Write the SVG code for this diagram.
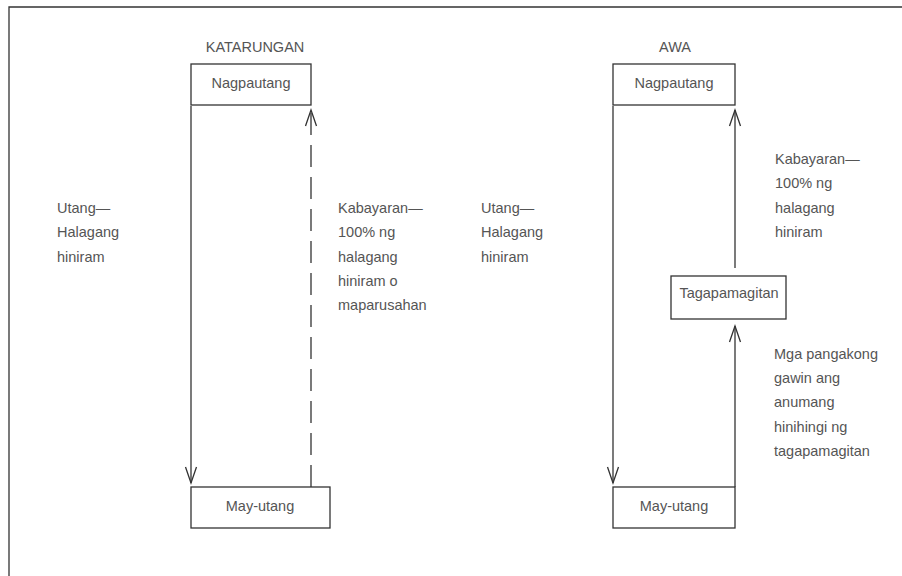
<svg xmlns="http://www.w3.org/2000/svg" width="902" height="576" viewBox="0 0 902 576">
<defs>
<style>
.box{fill:#fff;stroke:#333;stroke-width:1.3}
.ln{fill:none;stroke:#333;stroke-width:1.3}
.dash{stroke-dasharray:22 10}
.t{font-family:"Liberation Sans",Arial,sans-serif;font-size:14.5px;fill:#555}
.c{text-anchor:middle}
</style>
<marker id="ah" viewBox="-18 -7 20 14" markerWidth="20" markerHeight="14" refX="0" refY="0" orient="auto" markerUnits="userSpaceOnUse">
<path d="M-16,-5.5 L0,0 L-16,5.5" fill="none" stroke="#333" stroke-width="1.3"/>
</marker>
</defs>
<rect width="902" height="576" fill="#fff"/>
<path class="ln" d="M9,576 V7 H902" stroke-width="1.5"/>
<text class="t c" x="255" y="52">KATARUNGAN</text>
<text class="t c" x="675" y="52">AWA</text>
<g id="connectors">
<path class="ln" d="M191,106 V483" marker-end="url(#ah)"/>
<path class="ln dash" d="M311,487 V110" marker-end="url(#ah)"/>
<path class="ln" d="M613,106 V483" marker-end="url(#ah)"/>
<path class="ln" d="M735,268 V110" marker-end="url(#ah)"/>
<path class="ln" d="M735,487 V326" marker-end="url(#ah)"/>
</g>
<g id="n-nagpautang-1">
<rect class="box" x="191" y="64" width="120" height="41"/>
<text class="t c" x="251" y="88">Nagpautang</text>
</g>
<g id="n-mayutang-1">
<rect class="box" x="191" y="487" width="139" height="41"/>
<text class="t c" x="260" y="511">May-utang</text>
</g>
<g id="n-nagpautang-2">
<rect class="box" x="613" y="64" width="122" height="41"/>
<text class="t c" x="674" y="88">Nagpautang</text>
</g>
<g id="n-tagapamagitan">
<rect class="box" x="671" y="276" width="115" height="43"/>
<text class="t c" x="729" y="298">Tagapamagitan</text>
</g>
<g id="n-mayutang-2">
<rect class="box" x="613" y="487" width="122" height="41"/>
<text class="t c" x="674" y="511">May-utang</text>
</g>
<g id="labels">
<text class="t" x="57" y="213">Utang—</text>
<text class="t" x="57" y="237">Halagang</text>
<text class="t" x="57" y="262">hiniram</text>
<text class="t" x="338" y="213">Kabayaran—</text>
<text class="t" x="338" y="237">100% ng</text>
<text class="t" x="338" y="262">halagang</text>
<text class="t" x="338" y="286">hiniram o</text>
<text class="t" x="338" y="310">maparusahan</text>
<text class="t" x="481" y="213">Utang—</text>
<text class="t" x="481" y="237">Halagang</text>
<text class="t" x="481" y="262">hiniram</text>
<text class="t" x="775" y="164">Kabayaran—</text>
<text class="t" x="775" y="188">100% ng</text>
<text class="t" x="775" y="213">halagang</text>
<text class="t" x="775" y="237">hiniram</text>
<text class="t" x="774" y="359">Mga pangakong</text>
<text class="t" x="774" y="383">gawin ang</text>
<text class="t" x="774" y="407">anumang</text>
<text class="t" x="774" y="432">hinihingi ng</text>
<text class="t" x="774" y="456">tagapamagitan</text>
</g>
</svg>
